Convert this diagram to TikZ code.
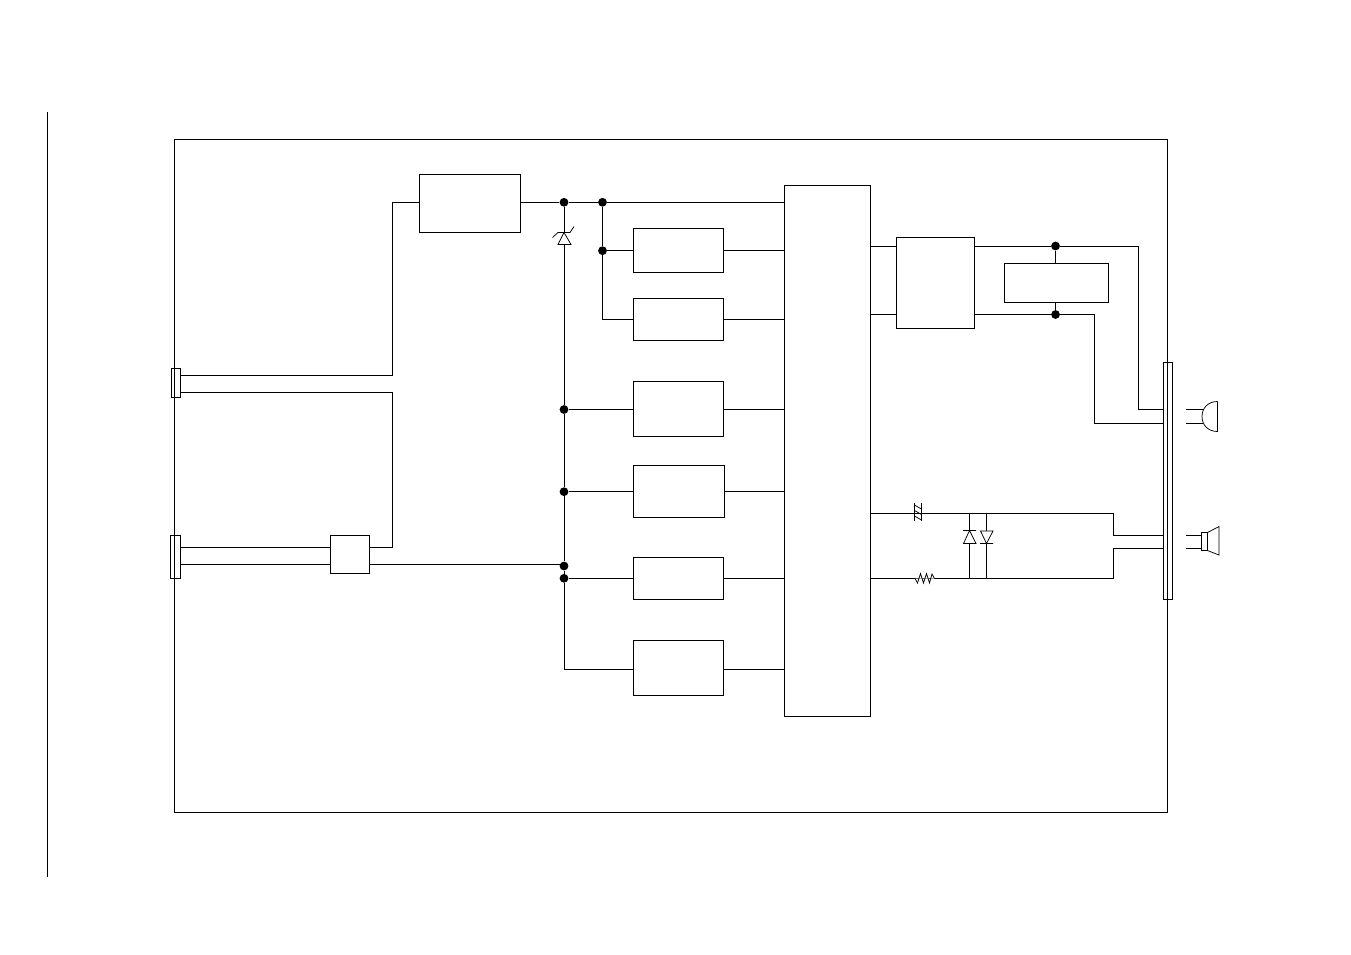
\documentclass[tikz,border=0pt]{standalone}
\tikzset{
  wire/.style={line width=0.8pt,line join=miter},
  block/.style={draw,line width=0.8pt,rectangle,inner sep=0pt,outer sep=0pt,anchor=north west},
  dotj/.style={circle,fill=black,draw=none,inner sep=0pt,minimum size=8.8pt},
  sym/.style={line width=0.75pt,line join=miter}
}
\begin{document}
\begin{tikzpicture}[x=1pt,y=-1pt]
\useasboundingbox (0,0) rectangle (1351,954);
\coordinate (lt) at (47,112); \coordinate (lb) at (47,877);
\draw[wire] (lt) -- (lb);
% frame and connectors
\node[block,minimum width=993pt,minimum height=673pt] (frame) at (174.5,139.5) {};
\node[block,minimum width=8.5pt,minimum height=29pt] (c1) at (171.5,368.5) {};
\node[block,minimum width=10pt,minimum height=43pt] (c2) at (170.5,535.5) {};
\node[block,minimum width=9pt,minimum height=237pt] (c3) at (1163.5,362.5) {};
% blocks
\node[block,minimum width=101pt,minimum height=58pt] (psu) at (419.5,174.5) {};
\node[block,minimum width=39pt,minimum height=38pt] (sw) at (330.5,535.5) {};
\node[block,minimum width=86pt,minimum height=531pt] (ic) at (784.5,185.5) {};
\node[block,minimum width=90pt,minimum height=44pt] (b1) at (633.5,228.5) {};
\node[block,minimum width=90pt,minimum height=42pt] (b2) at (633.5,298.5) {};
\node[block,minimum width=90pt,minimum height=55pt] (b3) at (633.5,381.5) {};
\node[block,minimum width=91pt,minimum height=52pt] (b4) at (633.5,465.5) {};
\node[block,minimum width=90pt,minimum height=42pt] (b5) at (633.5,557.5) {};
\node[block,minimum width=90pt,minimum height=55pt] (b6) at (633.5,640.5) {};
\node[block,minimum width=78pt,minimum height=91pt] (amp) at (896.5,237.5) {};
\node[block,minimum width=104pt,minimum height=39pt] (flt) at (1004.5,263.5) {};
% junctions
\node[dotj] (j1) at (564,202.3) {};
\node[dotj] (j2) at (602.5,202.3) {};
\node[dotj] (j3) at (602.5,250.7) {};
\node[dotj] (j4) at (564,409.5) {};
\node[dotj] (j5) at (564,491.7) {};
\node[dotj] (j6) at (564,566) {};
\node[dotj] (j7) at (564,578.3) {};
\node[dotj] (j8) at (1055.5,246) {};
\node[dotj] (j9) at (1055.5,314.5) {};
% helper coordinates
\coordinate (zt) at (564,232.5); \coordinate (zb) at (564,244.5);
\coordinate (bl) at (564,669.5);
% power rail
\draw[wire] (psu.east |- j1) -- (j1) -- (j2) -- (ic.west |- j2);
\draw[wire] (j1) -- (zt);
\draw[wire] (zb) -- (j4) -- (j5) -- (j6) -- (j7) -- (bl) -- (b6.west |- bl);
\draw[wire] (j2) -- (j3) |- (b2.west);
\draw[wire] (j3) -- (b1.west |- j3);
\draw[wire] (j4) -- (b3.west |- j4);
\draw[wire] (j5) -- (b4.west |- j5);
\draw[wire] (j7) -- (b5.west |- j7);
% blocks to ic
\draw[wire] (b1.east |- j3) -- (ic.west |- j3);
\draw[wire] (b2.east) -- (ic.west |- b2.east);
\draw[wire] (b3.east |- j4) -- (ic.west |- j4);
\draw[wire] (b4.east |- j5) -- (ic.west |- j5);
\draw[wire] (b5.east |- j7) -- (ic.west |- j7);
\draw[wire] (b6.east |- bl) -- (ic.west |- bl);
% left inputs
\coordinate (k1) at (392.5,375.5); \coordinate (k2) at (392.5,392.5);
\coordinate (k3) at (392.5,547.5); \coordinate (k4) at (392.5,202.5);
\coordinate (s1) at (180,547.5); \coordinate (s2) at (180,564.5);
\draw[wire] (c1.east |- k1) -- (k1) -- (k4) -- (psu.west |- k4);
\draw[wire] (c1.east |- k2) -- (k2) -- (k3) -- (sw.east |- k3);
\draw[wire] (c2.east |- s1) -- (sw.west |- s1);
\draw[wire] (c2.east |- s2) -- (sw.west |- s2);
\draw[wire] (sw.east |- s2) -- (j6 |- s2);
% ic to amp
\draw[wire] (ic.east |- j8) -- (amp.west |- j8);
\draw[wire] (ic.east |- j9) -- (amp.west |- j9);
\draw[wire] (amp.east |- j8) -- (j8) -- (1138.5,246) -- (1138.5,409.5) -- (c3.west |- 0,409.5);
\draw[wire] (amp.east |- j9) -- (j9) -- (1094.5,314.5) -- (1094.5,423) -- (c3.west |- 0,423);
\draw[wire] (j8) -- (flt.north -| j8);
\draw[wire] (flt.south -| j9) -- (j9);
% audio output lines
\coordinate (a1) at (1113,513); \coordinate (a2) at (1113,578.5);
\draw[wire] (ic.east |- a1) -- (a1) -- (1113,535.5) -- (c3.west |- 0,535.5);
\draw[wire] (ic.east |- a2) -- (a2) -- (1113,548) -- (c3.west |- 0,548);
% ferrite
\draw[sym] (914.5,503) -- (914.5,521);
\draw[sym] (921.5,503) -- (921.5,521);
\draw[sym] (914.5,505) -- (921.5,509) (914.5,510.5) -- (921.5,514.5) (914.5,516) -- (921.5,520);
% resistor
\draw[sym,fill=white] (915,578.5) -- (917.5,583) -- (920.5,573.5) -- (923.5,583) -- (926.5,573.5) -- (929.5,583) -- (932,574) -- (934.5,578.5);
% diodes
\draw[wire] (969.5,513) -- (969.5,530.5) (969.5,543.5) -- (969.5,578.5);
\draw[wire] (986.5,513) -- (986.5,531) (986.5,543.5) -- (986.5,578.5);
\draw[sym] (963,530.5) -- (976,530.5) (963.5,543.5) -- (976,543.5) -- (969.5,530.5) -- cycle;
\draw[sym] (980,543.5) -- (993,543.5) (980.5,531) -- (993,531) -- (986.5,543.5) -- cycle;
% zener
\draw[sym] (552.5,237.5) -- (558,232.5) -- (570,232.5) -- (574,226.5);
\draw[sym] (558,244.5) -- (571,244.5) -- (564,232.5) -- cycle;
% microphone
\draw[wire] (1186,409.5) -- (1203.5,409.5) (1186,423) -- (1203,423);
\draw[sym] (1217.5,401.5) -- (1217.5,431.5) .. controls (1208,431.5) and (1202,425) .. (1202,416.5) .. controls (1202,408) and (1208,401.5) .. (1217.5,401.5);
% speaker
\draw[wire] (1186,535.5) -- (1201.5,535.5) (1186,548) -- (1201.5,548);
\draw[sym] (1201.5,532.5) rectangle (1207.5,550.5);
\draw[sym] (1207.5,532.5) -- (1219,526.5) -- (1219,555) -- (1207.5,550.5);
\end{tikzpicture}
\end{document}
